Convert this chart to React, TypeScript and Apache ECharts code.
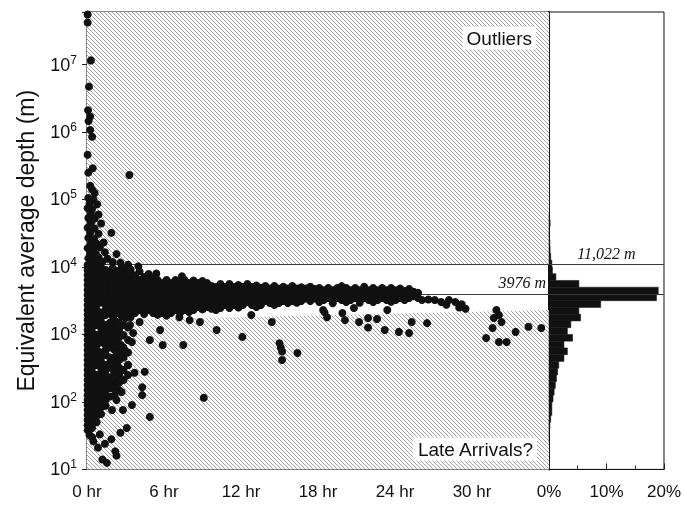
import React, { useEffect, useRef } from "react";
import * as echarts from "echarts";

const FONT = "'Liberation Sans', Arial, Helvetica, sans-serif";
const SERIF = "'Liberation Serif', 'Times New Roman', serif";

const OUTLIER_DEPTH = 11022;
const MEDIAN_DEPTH = 3976;
const HOUR_MAX = 36;
const DEPTH_MIN = 10;
const DEPTH_MAX = 6e7;

// [hours, depth m] points above the outlier threshold
const outlierPoints: number[][] = [
  [0.05, 55000000], [0.05, 42000000], [0.3, 11500000], [0.15, 4700000], [0.08, 2100000],
  [0.25, 1700000], [0.12, 1450000], [0.25, 1070000], [0.4, 850000], [0.05, 460000],
  [0.45, 290000], [0.1, 250000], [3.3, 230000], [0.25, 160000], [0.4, 140000],
  [0.6, 125000], [0.1, 105000], [0.5, 100000], [0.2, 88000], [0.8, 85000],
  [0.05, 74000], [0.4, 72000], [0.3, 63000], [0.9, 60000], [0.1, 53000],
  [0.6, 52000], [0.3, 45000], [1.1, 44000], [0.05, 38000], [0.6, 37000],
  [0.25, 32000], [0.9, 31000], [1.9, 32000], [0.1, 27000], [0.55, 26000],
  [0.3, 22500], [0.8, 22000], [1.3, 23000], [0.05, 19000], [0.5, 18500],
  [1.0, 19500], [0.25, 16000], [0.7, 15500], [1.4, 16500], [2.3, 15500],
  [0.1, 13500], [0.5, 13000], [0.9, 13800], [1.6, 13200], [0.3, 11800],
  [0.75, 11500], [1.2, 12000], [2.0, 11800], [2.6, 11600],
];

// early arrivals: [hours, depths at that hour]
const earlyColumns: [number, number[]][] = [
  [0.05, [10670, 9000, 7590, 6400, 5390, 4550, 3840, 3235, 2730, 2300, 1940, 1630, 1380, 1160, 980, 826, 697, 587, 495, 418, 352, 297, 250, 211, 178, 150, 126, 107, 90, 76, 64, 54, 45, 38]],
  [0.4, [9800, 8270, 6970, 5870, 4950, 4180, 3520, 2970, 2500, 2110, 1780, 1500, 1270, 1070, 900, 760, 640, 540, 455, 384, 324, 273, 230, 194, 164, 138, 116, 98, 83, 70, 59, 49, 41, 30]],
  [0.75, [10400, 9000, 7590, 6400, 5390, 4550, 3840, 3235, 2730, 2300, 1940, 1630, 1380, 980, 826, 697, 587, 495, 418, 352, 250, 211, 178, 150, 126, 107, 90, 76, 62, 50]],
  [1.1, [9800, 8270, 6970, 5870, 4950, 4180, 3520, 2970, 2110, 1780, 1500, 1270, 1070, 900, 760, 540, 455, 384, 324, 273, 230, 194, 164, 138, 116, 98, 83, 66]],
  [1.45, [9000, 7590, 6400, 5390, 4550, 3840, 3235, 2730, 2300, 1940, 1380, 1160, 980, 826, 697, 587, 495, 352, 297, 250, 211, 178, 150, 126, 107, 88]],
  [1.8, [8270, 6970, 5870, 4950, 4180, 3520, 2970, 2500, 2110, 1500, 1270, 1070, 900, 760, 640, 455, 384, 324, 230, 194, 160, 120]],
  [2.15, [1630, 1270, 980, 760, 587, 455, 352, 273, 211, 164, 126]],
  [2.5, [1500, 1160, 900, 697, 540, 418, 324, 250, 194, 150]],
  [2.85, [1380, 980, 640, 455, 297, 211]],
  [3.2, [1270, 826, 540, 352, 250]],
];

const earlySpray: number[][] = [
  [2.7, 140], [3.7, 270], [4.5, 280], [4.3, 165], [4.3, 126], [3.5, 90], [2.8, 76],
  [4.9, 60], [3.1, 41], [2.6, 35], [0.85, 21], [2.3, 16], [2.2, 18.5], [1.2, 14],
  [1.55, 12.5], [0.5, 26], [1.0, 33], [1.9, 28], [1.4, 24], [0.2, 32],
  [5.7, 1160], [3.6, 1050], [4.9, 826], [5.9, 697], [7.5, 697], [3.5, 770],
  [2.2, 1160], [2.4, 885], [2.65, 697], [3.0, 560], [2.4, 418], [3.2, 352],
  [2.1, 280], [2.6, 211], [2.0, 160], [2.3, 107], [1.95, 76], [3.0, 1750],
  [3.35, 1380], [4.1, 1530], [7.2, 1800], [8.0, 1630], [8.8, 1530], [9.1, 115],
  [5.4, 8000], [7.4, 7300], [4.0, 10200], [3.2, 10800],
];

// main band of arrivals: [hours, depths]
const bandColumns: [number, number[]][] = [
  [2.0, [9640, 7860, 6400, 5210, 4250, 3460, 2820, 2300, 1870]],
  [2.35, [8700, 7100, 5800, 4700, 3850, 3130, 2550, 2080]],
  [2.7, [9640, 7860, 6400, 5210, 4250, 3460, 2820, 2300, 1870]],
  [3.05, [8700, 7100, 5800, 4700, 3850, 3130, 2550, 2080]],
  [3.4, [9200, 7860, 6400, 5210, 4250, 3460, 2820, 2300, 1800]],
  [3.75, [7500, 5800, 4700, 3850, 3130, 2550, 2080]],
  [4.1, [8600, 6400, 5210, 4250, 3460, 2820, 2300]],
  [4.45, [7100, 5800, 4700, 3850, 3130, 2550, 2000]],
  [4.8, [7860, 6400, 5210, 4250, 3460, 2820, 2300]],
  [5.15, [6900, 5800, 4700, 3850, 3130, 2550, 2080]],
  [5.5, [6400, 5210, 4250, 3460, 2820, 2300, 1950]],
  [5.85, [5800, 4700, 3850, 3130, 2550, 2080]],
  [6.2, [6400, 5210, 4250, 3460, 2820, 2300, 1900]],
  [6.55, [5800, 4700, 3850, 3130, 2550, 2080]],
  [6.9, [6400, 5210, 4250, 3460, 2820, 2300]],
  [7.25, [5800, 4700, 3850, 3130, 2550, 2080]],
  [7.6, [6400, 5210, 4250, 3460, 2820, 2300]],
  [7.95, [5800, 4700, 3850, 3130, 2550, 2150]],
  [8.3, [6300, 5210, 4250, 3460, 2820, 2300]],
  [8.65, [5800, 4700, 3850, 3130, 2550]],
  [9.0, [6200, 5210, 4250, 3460, 2820, 2350]],
  [9.35, [5800, 4700, 3850, 3130, 2550]],
  [9.7, [5210, 4250, 3460, 2820, 2400]],
  [10.05, [5040, 4110, 3350, 2730, 2300]],
  [10.4, [5580, 4550, 3710, 3020, 2460]],
  [10.75, [5040, 4110, 3350, 2730]],
  [11.1, [5580, 4550, 3710, 3020, 2460]],
  [11.45, [5040, 4110, 3350, 2730]],
  [11.8, [5400, 4550, 3710, 3020, 2500]],
  [12.15, [5040, 4110, 3350, 2730]],
  [12.5, [5580, 4550, 3710, 3020]],
  [12.85, [5040, 4110, 3350, 2730]],
  [13.2, [5300, 4550, 3710, 3020, 2550]],
  [13.55, [4900, 4110, 3350, 2730]],
  [13.9, [5210, 4390, 3710, 3130]],
  [14.25, [4800, 4040, 3410, 2920]],
  [14.6, [5210, 4390, 3710, 3130, 2730]],
  [14.95, [4800, 4040, 3410, 2920]],
  [15.3, [5100, 4390, 3710, 3130]],
  [15.65, [4800, 4040, 3410, 2920]],
  [16.0, [5210, 4390, 3710, 3130]],
  [16.35, [4800, 4040, 3410, 2950]],
  [16.7, [5000, 4390, 3710, 3130]],
  [17.05, [4800, 4040, 3410]],
  [17.4, [5100, 4390, 3710, 3130]],
  [17.75, [4700, 4040, 3410]],
  [18.1, [4870, 4130, 3460, 3020]],
  [18.45, [4500, 3800, 3240]],
  [18.8, [4870, 4130, 3460]],
  [19.15, [4500, 3800, 3240, 2900]],
  [19.5, [4870, 4130, 3460]],
  [19.85, [5200, 4500, 3800, 3240]],
  [20.2, [4870, 4130, 3460, 3020]],
  [20.55, [4500, 3800, 3240]],
  [20.9, [4870, 4130, 3460]],
  [21.25, [4500, 3800, 3240, 2950]],
  [21.6, [5100, 4130, 3460]],
  [21.95, [4500, 3800, 3240]],
  [22.3, [4870, 4130, 3460, 3020]],
  [22.65, [4500, 3800, 3240]],
  [23.0, [4870, 4130, 3460]],
  [23.35, [4500, 3800, 3240]],
  [23.7, [4870, 4130, 3460, 3050]],
  [24.05, [4500, 3800, 3240]],
  [24.4, [4800, 4130, 3460]],
  [24.75, [4400, 3800, 3240]],
  [25.1, [4700, 4130, 3460]],
  [25.45, [4300, 3700]],
  [25.8, [4130, 3460]],
];

// later scattered arrivals
const latePoints: number[][] = [
  [18.4, 2300], [18.7, 1800], [18.5, 2140], [20.1, 1630], [19.9, 2075], [20.8, 2460],
  [21.2, 1530], [21.9, 1750], [22.6, 1690], [21.9, 1270], [23.2, 1160], [23.4, 2300],
  [24.3, 1090], [25.1, 1050], [25.3, 1530], [26.5, 1470],
  [26.1, 3235], [26.6, 3300], [27.1, 3235], [27.6, 3020], [28.2, 3235], [28.7, 3020],
  [29.2, 2800], [29.5, 2400], [29.0, 2500], [28.0, 2750],
  [31.9, 2300], [32.1, 1940], [32.3, 1530], [31.7, 1750], [31.6, 1245], [31.1, 885],
  [32.1, 771], [32.7, 771], [33.4, 1090], [34.4, 1300], [35.4, 1245],
  [16.4, 530], [15.0, 740], [15.2, 560], [15.2, 418], [15.1, 640], [12.1, 920],
  [10.1, 1160], [14.4, 1530], [12.8, 1940],
];

// histogram: bin start exponent (log10 m), bin width 0.1 decade, share in %
const histBinStartExp = [1.4, 1.5, 1.6, 1.7, 1.8, 1.9, 2.0, 2.1, 2.2, 2.3, 2.4, 2.5, 2.6, 2.7, 2.8, 2.9, 3.0, 3.1, 3.2, 3.3, 3.4, 3.5, 3.6, 3.7, 3.8, 3.9, 4.0, 4.1, 4.2, 4.3, 4.4, 4.5, 4.6, 4.7];
const histPercent = [0.1, 0.1, 0.15, 0.3, 0.5, 0.5, 0.7, 0.9, 1.1, 1.3, 1.5, 1.7, 2.6, 3.2, 2.6, 4.1, 3.2, 3.8, 5.5, 5.2, 9.0, 18.7, 19.0, 5.2, 1.2, 0.6, 0.5, 0.3, 0.2, 0.15, 0.1, 0.1, 0.2, 0.1];
const HIST_BIN_WIDTH_EXP = 0.1;

// shaded regions (hours, depth)
const lateRegion: number[][] = [[0, 10], [0, 1600], [36, 2300], [36, 10]];
const outlierRegion: number[][] = [[0, OUTLIER_DEPTH], [36, OUTLIER_DEPTH], [36, DEPTH_MAX], [0, DEPTH_MAX]];

const hourLabelSuffix = " hr";
const percentLabelSuffix = "%";

function makeHatch() {
  const size = 8;
  const c = document.createElement("canvas");
  c.width = size;
  c.height = size;
  const ctx = c.getContext("2d")!;
  ctx.fillStyle = "#ffffff";
  ctx.fillRect(0, 0, size, size);
  ctx.strokeStyle = "#a4a4a4";
  ctx.lineWidth = 1;
  for (let k = -8; k <= 8; k += 4) {
    ctx.beginPath();
    ctx.moveTo(k - 2, -2);
    ctx.lineTo(k + 10, 10);
    ctx.stroke();
  }
  return { image: c.toDataURL(), repeat: "repeat", imageWidth: size, imageHeight: size };
}

export default function App() {
  const ref = useRef<HTMLDivElement>(null);
  useEffect(() => {
    const chart = echarts.init(ref.current!, null, { renderer: "svg" });
    const hatch = makeHatch();

    const scatterData: number[][] = [
      ...outlierPoints,
      ...earlyColumns.flatMap(([h, ds]) => ds.map((d) => [h, d])),
      ...earlySpray,
      ...bandColumns.flatMap(([h, ds]) => ds.map((d) => [h, d])),
      ...latePoints,
    ];
    const histData = histBinStartExp.map((e, i) => [
      histPercent[i],
      Math.pow(10, e),
      Math.pow(10, e + HIST_BIN_WIDTH_EXP),
    ]);

    const regionSeries = (pts: number[][], extra: any) => ({
      type: "custom",
      xAxisIndex: 0,
      yAxisIndex: 0,
      silent: true,
      z: 1,
      data: [pts[0]],
      encode: { x: 0, y: 1 },
      renderItem: (_p: any, api: any) => ({
        type: "polygon",
        shape: { points: pts.map((p) => api.coord(p)) },
        style: { fill: hatch, stroke: "none" },
      }),
      ...extra,
    });

    const lineStyle = { color: "#3a3a3a", width: 1, type: "solid" };
    const italicLabel = {
      fontFamily: SERIF,
      fontStyle: "italic",
      fontSize: 16,
      color: "#111",
    };

    const logFormatter = (v: number) => {
      const l = Math.log10(v);
      const e = Math.round(l);
      return Math.abs(l - e) < 1e-6 ? `{b|10}{s|${e}}` : "";
    };

    chart.setOption({
      animation: false,
      textStyle: { fontFamily: FONT },
      grid: [
        { left: 87, top: 12, width: 462, height: 457.4, show: true, borderColor: "#111", borderWidth: 1 },
        { left: 549, top: 12, width: 117, height: 457.4, show: true, borderColor: "#111", borderWidth: 1 },
      ],
      xAxis: [
        {
          gridIndex: 0,
          type: "value",
          min: 0,
          max: HOUR_MAX,
          interval: 6,
          position: "bottom",
          axisLine: { show: true, lineStyle: { color: "#111" } },
          axisTick: { show: true, inside: true, length: 6, lineStyle: { color: "#222" } },
          minorTick: { show: true, splitNumber: 6, length: 3, lineStyle: { color: "#333" } },
          splitLine: { show: false },
          axisLabel: {
            formatter: (v: number) => `${v}${hourLabelSuffix}`,
            showMaxLabel: false,
            fontSize: 17,
            color: "#111",
            margin: 14,
          },
        },
        {
          gridIndex: 1,
          type: "value",
          min: 0,
          max: 20,
          interval: 10,
          position: "bottom",
          axisLine: { show: true, lineStyle: { color: "#111" } },
          axisTick: { show: true, inside: true, length: 6, lineStyle: { color: "#222" } },
          minorTick: { show: true, splitNumber: 2, length: 4, lineStyle: { color: "#333" } },
          splitLine: { show: false },
          axisLabel: {
            formatter: (v: number) => `${v}${percentLabelSuffix}`,
            fontSize: 17,
            color: "#111",
            margin: 14,
          },
        },
        {
          gridIndex: 0,
          type: "value",
          min: 0,
          max: HOUR_MAX,
          interval: 6,
          position: "top",
          axisLine: { show: true, lineStyle: { color: "#111" } },
          axisTick: { show: true, inside: true, length: 5, lineStyle: { color: "#222" } },
          minorTick: { show: true, splitNumber: 6, length: 3, lineStyle: { color: "#333" } },
          splitLine: { show: false },
          axisLabel: { show: false },
        },
      ],
      yAxis: [
        {
          gridIndex: 0,
          type: "log",
          logBase: 10,
          min: DEPTH_MIN,
          max: DEPTH_MAX,
          splitNumber: 7,
          axisLine: { show: true, lineStyle: { color: "#111" } },
          axisTick: { show: true, inside: false, length: 5, lineStyle: { color: "#222" } },
          splitLine: { show: false },
          name: "Equivalent average depth (m)",
          nameLocation: "middle",
          nameGap: 50,
          nameTextStyle: { fontSize: 23, color: "#111", fontFamily: FONT },
          axisLabel: {
            formatter: logFormatter,
            margin: 10,
            rich: {
              b: { fontSize: 18, color: "#111", fontFamily: FONT, lineHeight: 22 },
              s: { fontSize: 12, color: "#111", fontFamily: FONT, verticalAlign: "top", lineHeight: 12 },
            },
          },
        },
        {
          gridIndex: 1,
          type: "log",
          logBase: 10,
          min: DEPTH_MIN,
          max: DEPTH_MAX,
          splitNumber: 7,
          axisLine: { show: true, lineStyle: { color: "#111", width: 2 } },
          axisTick: { show: false },
          axisLabel: { show: false },
          splitLine: { show: false },
        },
      ],
      graphic: [
        {
          type: "text",
          x: 536,
          y: 38,
          z: 100,
          style: {
            text: "Outliers",
            fontSize: 19,
            fontFamily: FONT,
            fill: "#111",
            align: "right",
            verticalAlign: "middle",
            backgroundColor: "#fff",
            padding: [2, 4],
          },
        },
        {
          type: "text",
          x: 537,
          y: 449,
          z: 100,
          style: {
            text: "Late Arrivals?",
            fontSize: 19,
            fontFamily: FONT,
            fill: "#111",
            align: "right",
            verticalAlign: "middle",
            backgroundColor: "#fff",
            padding: [2, 4],
          },
        },
      ],
      series: [
        regionSeries(outlierRegion, {
          markLine: {
            silent: true,
            symbol: "none",
            lineStyle,
            data: [
              { yAxis: OUTLIER_DEPTH, label: { show: false } },
              {
                yAxis: MEDIAN_DEPTH,
                label: {
                  show: true,
                  position: "insideEndTop",
                  formatter: `${MEDIAN_DEPTH} m`,
                  distance: 3,
                  ...italicLabel,
                },
              },
            ],
          },
        }),
        regionSeries(lateRegion, {}),
        {
          type: "scatter",
          xAxisIndex: 0,
          yAxisIndex: 0,
          z: 10,
          symbolSize: 8,
          itemStyle: { color: "#111", opacity: 1, borderWidth: 0 },
          data: scatterData,
        },
        {
          type: "custom",
          xAxisIndex: 1,
          yAxisIndex: 1,
          z: 3,
          silent: true,
          data: histData,
          encode: { x: 0, y: 1 },
          renderItem: (_p: any, api: any) => {
            const topLeft = api.coord([0, api.value(2)]);
            const botRight = api.coord([api.value(0), api.value(1)]);
            return {
              type: "rect",
              shape: {
                x: topLeft[0],
                y: topLeft[1],
                width: botRight[0] - topLeft[0],
                height: botRight[1] - topLeft[1],
              },
              style: { fill: "#111", stroke: "#111", lineWidth: 0.5 },
            };
          },
          markLine: {
            silent: true,
            symbol: "none",
            lineStyle,
            data: [
              {
                yAxis: OUTLIER_DEPTH,
                label: {
                  show: true,
                  position: "insideMiddleTop",
                  formatter: "11,022 m",
                  distance: 3,
                  ...italicLabel,
                },
              },
              { yAxis: MEDIAN_DEPTH, label: { show: false } },
            ],
          },
        },
      ],
    });
    return () => chart.dispose();
  }, []);
  return (
    <div
      ref={ref}
      style={{ position: "fixed", left: 0, top: 0, width: 684, height: 508 }}
    />
  );
}
